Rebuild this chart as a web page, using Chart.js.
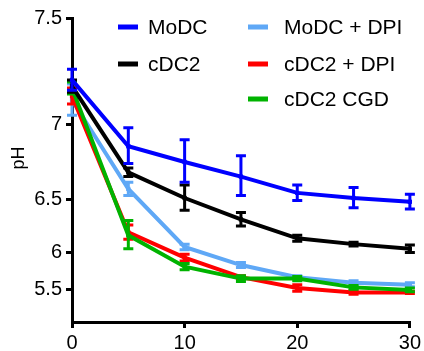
<!DOCTYPE html>
<html>
<head>
<meta charset="utf-8">
<script src="https://cdn.jsdelivr.net/npm/chart.js@4.4.1/dist/chart.umd.min.js"></script>
<style>
  html, body { margin: 0; padding: 0; background: #ffffff; }
  #wrap { width: 424px; height: 351px; position: relative; }
</style>
</head>
<body>
<div id="wrap"><canvas id="c" width="424" height="351"></canvas></div>
<script>
// ---- data ----
const times = [0, 5, 10, 15, 20, 25, 30];
const seriesNames = ['MoDC', 'cDC2', 'MoDC + DPI', 'cDC2 + DPI', 'cDC2 CGD'];
const modc        = [7.23, 6.87, 6.77, 6.67, 6.55, 6.51, 6.48];
const modcErr     = [0.05, 0.11, 0.14, 0.14, 0.06, 0.08, 0.06];
const cdc2        = [7.20, 6.70, 6.51, 6.33, 6.15, 6.09, 6.04];
const cdc2Err     = [0.03, 0.03, 0.10, 0.06, 0.03, 0.02, 0.04];
const modcDpi     = [7.13, 6.58, 6.06, 5.85, 5.69, 5.61, 5.58];
const modcDpiErr  = [0.08, 0.05, 0.03, 0.03, 0.02, 0.03, 0.03];
const cdc2Dpi     = [7.15, 6.21, 5.94, 5.69, 5.53, 5.46, 5.46];
const cdc2DpiErr  = [0.04, 0.07, 0.04, 0.02, 0.05, 0.03, 0.02];
const cdc2Cgd     = [7.19, 6.18, 5.83, 5.67, 5.67, 5.54, 5.50];
const cdc2CgdErr  = [0.03, 0.14, 0.04, 0.04, 0.03, 0.03, 0.03];
const yTicks = [5.5, 6, 6.5, 7, 7.5];
const xTicks = [0, 10, 20, 30];

const colors = ['#0000ff', '#000000', '#5fa8f6', '#ff0000', '#00b300'];
const drawOrder = [1, 2, 5, 4, 3];
const values = [modc, cdc2, modcDpi, cdc2Dpi, cdc2Cgd];
const errors = [modcErr, cdc2Err, modcDpiErr, cdc2DpiErr, cdc2CgdErr];

// ---- custom y scale: pixel position linear in 2^value (as in the reference axis) ----
const LinearScale = Chart.LinearScale || Chart.registry.getScale('linear');
class Pow2Scale extends LinearScale {
  getPixelForValue(value) {
    const a = Math.pow(2, this.min), b = Math.pow(2, this.max);
    return this.getPixelForDecimal((Math.pow(2, value) - a) / (b - a));
  }
  getValueForPixel(pixel) {
    const a = Math.pow(2, this.min), b = Math.pow(2, this.max);
    const d = this.getDecimalForPixel(pixel);
    return Math.log2(a + d * (b - a));
  }
}
Pow2Scale.id = 'pow2';
Pow2Scale.defaults = LinearScale.defaults;
Chart.register(Pow2Scale);

const FONT = "'Liberation Sans', Arial, Helvetica, sans-serif";

const errorBars = {
  id: 'errorBars',
  afterDatasetDraw(chart, args) {
    const i = args.index;
    const err = errors[i];
    const ys = chart.scales.y, xs = chart.scales.x;
    const ctx = chart.ctx;
    ctx.save();
    ctx.strokeStyle = colors[i];
    ctx.lineWidth = 3;
    ctx.lineCap = 'butt';
    values[i].forEach((v, k) => {
      const x = xs.getPixelForValue(times[k]);
      const y1 = ys.getPixelForValue(v + err[k]);
      const y2 = ys.getPixelForValue(v - err[k]);
      ctx.beginPath();
      ctx.moveTo(x, y1); ctx.lineTo(x, y2);
      ctx.moveTo(x - 5, y1); ctx.lineTo(x + 5, y1);
      ctx.moveTo(x - 5, y2); ctx.lineTo(x + 5, y2);
      ctx.stroke();
    });
    ctx.restore();
  }
};

const customText = {
  id: 'customText',
  afterDraw(chart) {
    const ctx = chart.ctx;
    ctx.save();
    // y-axis title
    ctx.fillStyle = '#000';
    ctx.font = '18px ' + FONT;
    ctx.textAlign = 'center';
    ctx.textBaseline = 'middle';
    ctx.translate(19, 158);
    ctx.rotate(-Math.PI / 2);
    ctx.fillText('pH', 0, 0);
    ctx.restore();
    // legend (two columns)
    const slots = [
      { x: 118, y: 27 }, { x: 118, y: 64 },
      { x: 248, y: 27 }, { x: 248, y: 64 }, { x: 248, y: 99 }
    ];
    ctx.save();
    ctx.font = '21px ' + FONT;
    ctx.textAlign = 'left';
    ctx.textBaseline = 'middle';
    chart.data.datasets.forEach((ds, i) => {
      const s = slots[i];
      ctx.fillStyle = ds.borderColor;
      ctx.fillRect(s.x, s.y - 2.5, 20, 5);
      ctx.fillStyle = '#000';
      ctx.fillText(ds.label, s.x + (i >= 2 ? 36 : 30), s.y + 1);
    });
    ctx.restore();
  }
};

const datasets = seriesNames.map((name, i) => ({
  label: name,
  data: times.map((t, k) => ({ x: t, y: values[i][k] })),
  borderColor: colors[i],
  backgroundColor: colors[i],
  borderWidth: 4,
  pointStyle: 'rect',
  pointRadius: 3,
  pointBorderWidth: 0,
  tension: 0,
  clip: false,
  order: drawOrder[i]
}));

new Chart(document.getElementById('c'), {
  type: 'line',
  data: { datasets },
  plugins: [errorBars, customText],
  options: {
    responsive: false,
    animation: false,
    devicePixelRatio: 1,
    layout: { padding: { left: 4, top: 18, right: 14, bottom: 0 } },
    plugins: { legend: { display: false }, tooltip: { enabled: false } },
    scales: {
      x: {
        type: 'linear',
        min: 0, max: 30,
        afterBuildTicks: (s) => { s.ticks = xTicks.map(v => ({ value: v })); },
        afterFit: (s) => { s.height = 29; },
        grid: { display: true, drawOnChartArea: false, drawTicks: true, tickLength: 6, color: '#000', lineWidth: 3 },
        border: { display: true, color: '#000', width: 3 },
        ticks: { color: '#000', font: { family: FONT, size: 20 }, padding: 3, maxRotation: 0, callback: v => String(v) }
      },
      y: {
        type: 'pow2',
        min: 4.87, max: 7.5,
        afterBuildTicks: (s) => { s.ticks = yTicks.map(v => ({ value: v })); },
        afterFit: (s) => { s.width = 68; },
        grid: { display: true, drawOnChartArea: false, drawTicks: true, tickLength: 6, color: '#000', lineWidth: 3 },
        border: { display: true, color: '#000', width: 3 },
        ticks: { color: '#000', font: { family: FONT, size: 20 }, padding: 4, callback: v => String(v) }
      }
    }
  }
});
</script>
</body>
</html>
